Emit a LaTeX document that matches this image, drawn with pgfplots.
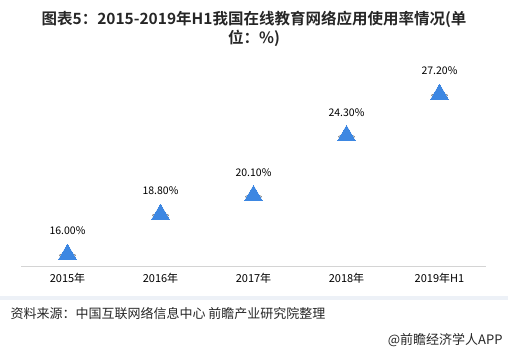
\documentclass[border=0pt]{standalone}
\usepackage{pgfplots}
\pgfplotsset{compat=1.18}
\usepackage{fontspec}
\setmainfont{Noto Sans CJK SC}[BoldFont={Noto Sans CJK SC Bold}]
\definecolor{tri}{HTML}{3D87E2}
\definecolor{txt}{HTML}{262626}
\definecolor{band}{HTML}{EDF1F7}
\begin{document}
\begin{tikzpicture}[x=1bp,y=1bp]
\path[use as bounding box] (0,0) rectangle (508,-351);
\fill[band] (0,-295.5) rectangle (508,-300);
\node[align=center, font=\bfseries\fontsize{15.5bp}{19bp}\selectfont, text=txt] at (254,-28.5)
 {图表5：2015-2019年H1我国在线教育网络应用使用率情况(单\\位：\%)};
\begin{axis}[
 at={(21bp,-266bp)}, anchor=south west,
 scale only axis, width=465bp, height=213bp,
 xmin=-0.5, xmax=4.5, ymin=15.16, ymax=30.07,
 hide y axis,
 axis x line=bottom,
 x axis line style={-, draw=black!17, line width=0.8bp},
 xtick={0,1,2,3,4},
 xticklabels={2015年,2016年,2017年,2018年,2019年H1},
 major tick length=0pt,
 xticklabel style={font=\fontsize{11bp}{13bp}\selectfont, text=black, yshift=-4bp},
 clip=false,
 point meta=explicit symbolic,
 nodes near coords,
 nodes near coords style={anchor=center, yshift=23bp, font=\fontsize{10.5bp}{12bp}\selectfont, text=black},
]
\addplot[only marks, draw=none, mark=*, mark size=8.5bp, nodes near coords=\empty,
  mark options={draw=none, fill=black!40, opacity=0.5, xscale=0.95, yscale=0.22, yshift=-6bp}]
  coordinates {(0,16.0) (1,18.8) (2,20.1) (3,24.3) (4,27.2)};
\addplot[only marks, draw=tri, mark=triangle*, mark size=10bp, mark options={draw=tri, fill=tri, line width=0pt}]
  coordinates {(0,16.0) [16.00\%] (1,18.8) [18.80\%] (2,20.1) [20.10\%] (3,24.3) [24.30\%] (4,27.2) [27.20\%]};
\end{axis}
\node[anchor=west, font=\fontsize{13bp}{15bp}\selectfont, text=txt] at (7,-314) {资料来源：中国互联网络信息中心 前瞻产业研究院整理};
\node[anchor=east, font=\fontsize{13bp}{15bp}\selectfont, text=txt] at (506,-340) {@前瞻经济学人APP};
\end{tikzpicture}
\end{document}
